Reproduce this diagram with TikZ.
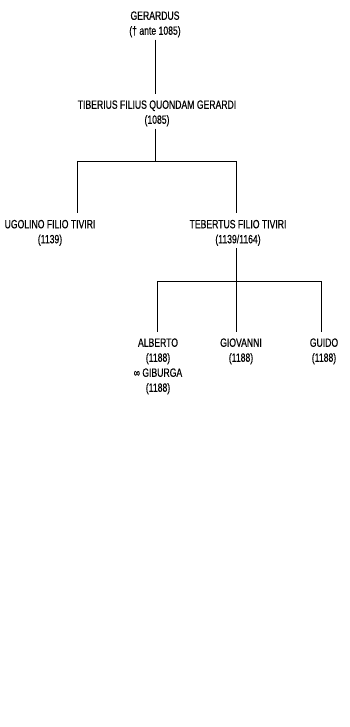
\documentclass[tikz,border=0pt]{standalone}
\usepackage{fontspec}
\newfontfamily\namefont{Liberation Sans}[FakeStretch=0.72,FakeBold=0.4]

\begin{document}
\begin{tikzpicture}[x=1pt,y=-1pt,thick,line width=0.8pt,main node/.style={anchor=north,align=center,inner xsep=0pt,inner ysep=2pt,font=\namefont\fontsize{12}{15}\selectfont},tie/.style={draw,line width=0.8pt},into/.style={tie,shorten >=4pt}]
                \useasboundingbox (0,0) rectangle (349,727);
                \node[main node] (1) at (155,9) {GERARDUS\\(\dag{} ante 1085)};
                \node[main node] (2) at (157,98) {TIBERIUS FILIUS QUONDAM GERARDI\\(1085)};
                \node[main node] (3) at (50,217.5) {UGOLINO FILIO TIVIRI\\(1139)};
                \node[main node] (4) at (238,217.5) {TEBERTUS FILIO TIVIRI\\(1139/1164)};
                \node[main node] (5) at (158,336) {ALBERTO\\(1188)\\∞ GIBURGA\\(1188)};
                \node[main node] (6) at (241,336) {GIOVANNI\\(1188)};
                \node[main node] (7) at (324,336) {GUIDO\\(1188)};

                \coordinate (a) at (155.7,161);
                \coordinate (al) at (77,161);
                \coordinate (ar) at (236,161);
                \coordinate (b) at (236,281.7);
                \coordinate (bl) at (157.3,281.7);
                \coordinate (br) at (321.7,281.7);

                \path[into] (1.south -| a) -- (a |- 2.north);
                \path[tie] (2.south -| a) -- (a);
                \path[tie] (al) -- (ar);
                \path[into] (al) -- (al |- 3.north);
                \path[into] (ar) -- (ar |- 4.north);
                \path[tie] (4.south -| b) -- (b);
                \path[tie] (bl) -- (br);
                \path[into] (bl) -- (bl |- 5.north);
                \path[into] (b) -- (b |- 6.north);
                \path[into] (br) -- (br |- 7.north);

            \end{tikzpicture}
\end{document}
